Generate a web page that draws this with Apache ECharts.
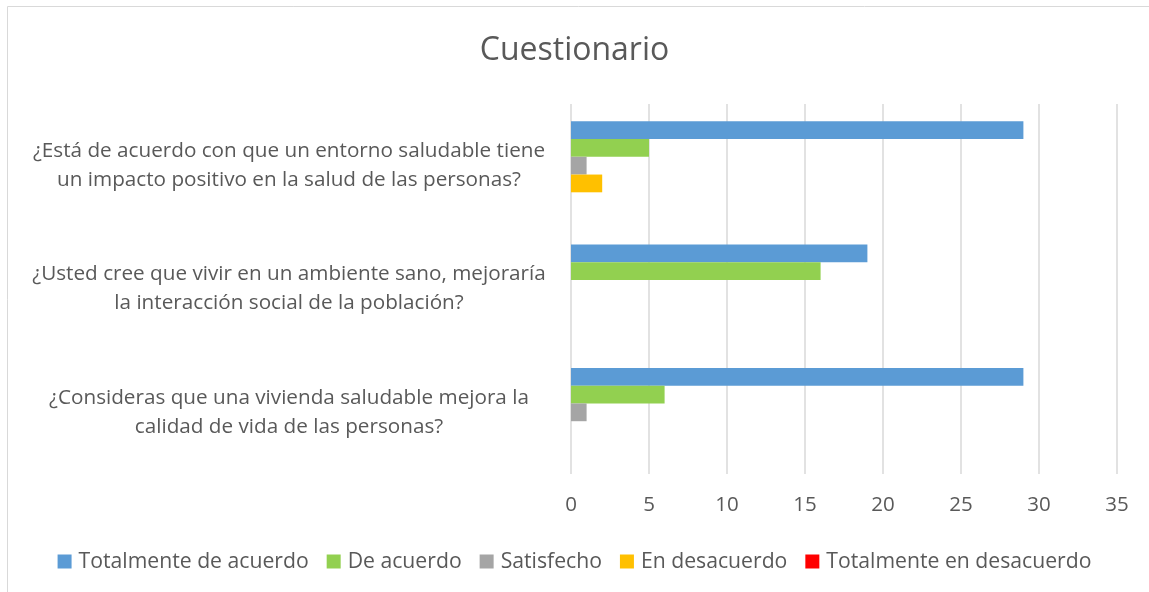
<!DOCTYPE html>
<html>
<head>
<meta charset="utf-8">
<script src="https://cdn.jsdelivr.net/npm/echarts@6/dist/echarts.min.js"></script>
<style>
  html, body { margin: 0; padding: 0; background: #fff; }
  #chart { width: 1149px; height: 592px; }
</style>
</head>
<body>
<div id="chart"></div>
<script>
// preguntas, de arriba hacia abajo
const preguntas = [
  '¿Está de acuerdo con que un entorno saludable tiene\nun impacto positivo en la salud de las personas?',
  '¿Usted cree que vivir en un ambiente sano, mejoraría\nla interacción social de la población?',
  '¿Consideras que una vivienda saludable mejora la\ncalidad de vida de las personas?'
]
const totalmenteDeAcuerdo = [29, 19, 29]
const deAcuerdo = [5, 16, 6]
const satisfecho = [1, 0, 1]
const enDesacuerdo = [2, 0, 0]
const totalmenteEnDesacuerdo = [0, 0, 0]

const nombres = ['Totalmente de acuerdo', 'De acuerdo', 'Satisfecho', 'En desacuerdo', 'Totalmente en desacuerdo']
const colores = ['#5B9BD5', '#92D050', '#A5A5A5', '#FFC000', '#FF0000']
const valores = [totalmenteDeAcuerdo, deAcuerdo, satisfecho, enDesacuerdo, totalmenteEnDesacuerdo]

const fuente = 'Open Sans'
const gris = '#595959'

const chart = echarts.init(document.getElementById('chart'))
chart.setOption({
  animation: false,
  textStyle: { fontFamily: fuente },
  title: {
    text: 'Cuestionario',
    left: 'center',
    top: 30,
    textStyle: { fontFamily: fuente, fontSize: 32, fontWeight: 'normal', color: gris }
  },
  legend: {
    top: 546,
    left: 'center',
    icon: 'rect',
    itemWidth: 14,
    itemHeight: 14,
    itemGap: 18,
    textStyle: { fontFamily: fuente, fontSize: 21.2, color: gris, padding: [0, 0, 0, 2] },
    data: nombres
  },
  grid: {
    left: 571,
    right: 32,
    top: 104,
    bottom: 118,
    containLabel: false
  },
  xAxis: {
    type: 'value',
    min: 0,
    max: 35,
    interval: 5,
    axisLine: { show: false },
    axisTick: { show: false },
    axisLabel: { fontFamily: fuente, fontSize: 20.5, color: gris, margin: 21 },
    splitLine: { show: true, lineStyle: { color: '#d9d9d9', width: 1.5 } }
  },
  yAxis: {
    type: 'category',
    inverse: true,
    data: preguntas,
    axisLine: { show: false },
    axisTick: { show: false },
    axisLabel: {
      fontFamily: fuente,
      fontSize: 20.7,
      color: gris,
      align: 'center',
      margin: 282,
      lineHeight: 29
    }
  },
  graphic: [{
    type: 'rect',
    silent: true,
    shape: { x: 7.5, y: 6.5, width: 1200, height: 700 },
    style: { fill: 'none', stroke: '#d9d9d9', lineWidth: 1 }
  }],
  series: nombres.map((n, i) => ({
    name: n,
    type: 'bar',
    barGap: '0%',
    barCategoryGap: '28%',
    itemStyle: { color: colores[i] },
    data: valores[i]
  }))
})
</script>
</body>
</html>
